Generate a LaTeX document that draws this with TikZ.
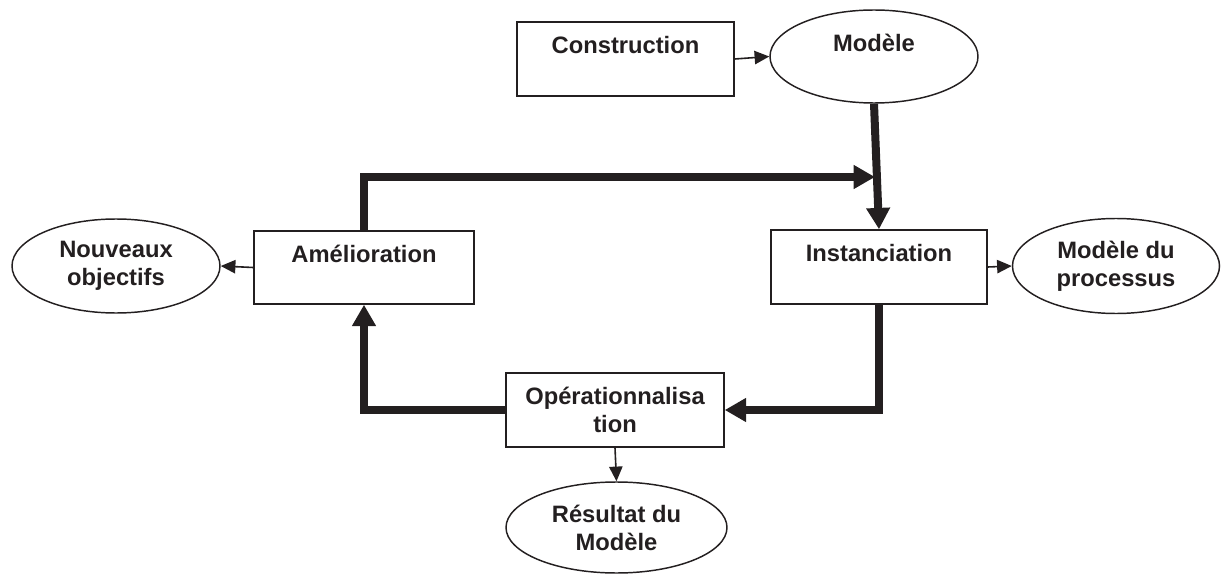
\documentclass[tikz,border=0pt]{standalone}
\usepackage{fontspec}
\setmainfont{Liberation Sans}
\usepackage{tikz}
\usetikzlibrary{shapes.geometric, arrows.meta}
\definecolor{encre}{RGB}{35,31,32}
\newcommand{\corTrait}{encre}
\newcommand{\corTexte}{encre}

\begin{document}
\begin{tikzpicture}[x=0.75pt, y=-0.75pt,
    every node/.style={font=\fontsize{17.8}{21}\selectfont\bfseries, text=\corTexte, align=center, inner sep=0pt},
    boite/.style={draw=\corTrait, line width=1.1pt, rectangle},
    bulle/.style={draw=\corTrait, line width=1.1pt, ellipse},
    fin/.style={draw=\corTrait, line width=1.2pt, -{Triangle[length=11pt, width=10pt]}},
    gros/.style={draw=\corTrait, line width=6pt, -{Triangle[length=16pt, width=17pt]}}]
    \useasboundingbox (0,0) rectangle (1221,574);

    % boites
    \node[boite, minimum width=162.75pt, minimum height=55.5pt] (constr) at (625.5,59) {Construction\\ \mbox{}};
    \node[boite, minimum width=165pt, minimum height=54.75pt] (amelio) at (364,267.5) {Amélioration\\ \mbox{}};
    \node[boite, minimum width=162pt, minimum height=55.5pt] (inst) at (879,267) {Instanciation\\ \mbox{}};
    \node[boite, minimum width=163.5pt, minimum height=55.5pt] (oper) at (615,410) {Opérationnalisa\\tion};

    % ellipses
    \node[bulle, minimum width=156pt, minimum height=69.75pt] (modele) at (874,56.5) {Modèle\\ \mbox{}};
    \node[bulle, minimum width=156pt, minimum height=70.5pt] (nouv) at (116,266) {Nouveaux\\objectifs};
    \node[bulle, minimum width=155.25pt, minimum height=71.25pt] (procs) at (1116,266) {Modèle du\\processus};
    \node[bulle, minimum width=165.75pt, minimum height=68.25pt] (result) at (616.5,527.5) {Résultat du\\Modèle};

    \coordinate (jonction) at (875,177);

    % fleches fines
    \draw[fin] (constr.east) -- (modele.west);
    \draw[fin] (amelio.west) -- (nouv.east);
    \draw[fin] (inst.east) -- (procs.west);
    \draw[fin] (oper.south) -- (result.north);

    % boucle
    \draw[gros] (modele.south) -- (inst.north);
    \draw[gros] (amelio.north) |- (jonction);
    \draw[gros] (inst.south) |- (oper.east);
    \draw[gros] (oper.west) -| (amelio.south);
\end{tikzpicture}
\end{document}
